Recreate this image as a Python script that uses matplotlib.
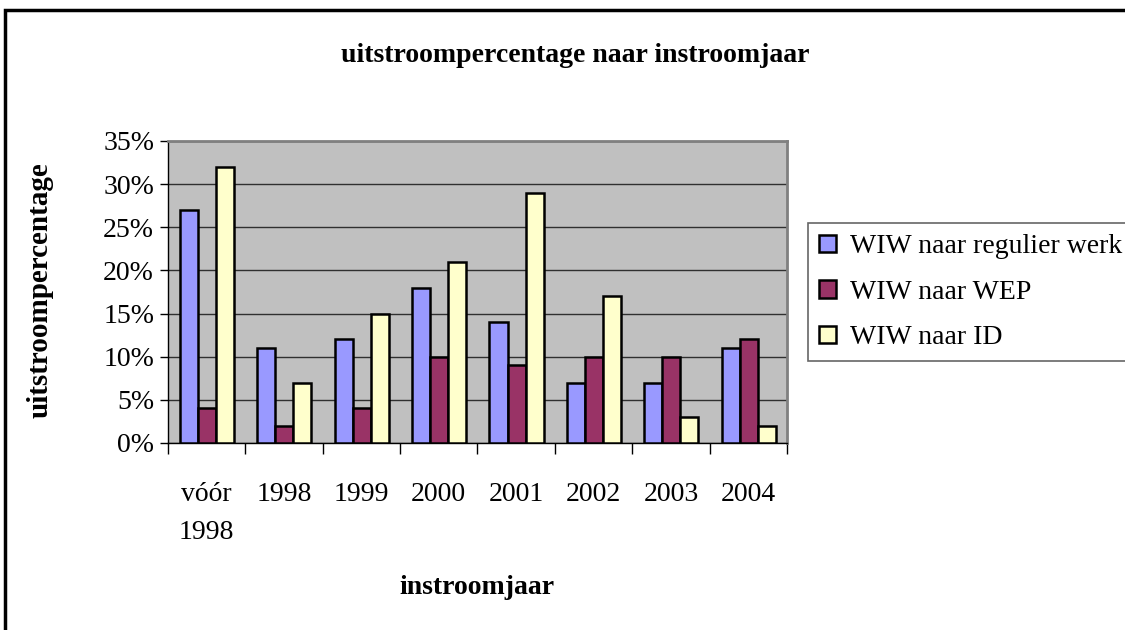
import matplotlib
matplotlib.use("Agg")
import matplotlib.pyplot as plt
import numpy as np
from matplotlib.patches import Rectangle

categories = ["vóór\n1998", "1998", "1999", "2000", "2001", "2002", "2003", "2004"]
regulier = [27, 11, 12, 18, 14, 7, 7, 11]
wep = [4, 2, 4, 10, 9, 10, 10, 12]
idv = [32, 7, 15, 21, 29, 17, 3, 2]
series_names = ["WIW naar regulier werk", "WIW naar WEP", "WIW naar ID"]
colors = ["#9999FF", "#993366", "#FFFFCC"]
yticks = [0, 5, 10, 15, 20, 25, 30, 35]

plt.rcParams['font.family'] = ['Liberation Serif', 'DejaVu Serif']

fig = plt.figure(figsize=(11.25, 6.3), dpi=100)
# outer chart frame
fig.patches.append(Rectangle((5/1125, -0.1), 1.2, (630-10)/630 + 0.1, transform=fig.transFigure,
                             fill=False, edgecolor="black", linewidth=2.5))

ax = fig.add_axes([168/1125, 1-443/630, (787-168)/1125, (443-141)/630])
ax.set_facecolor("#C0C0C0")

x = np.arange(len(categories))
w = 0.233
for i, (vals, c, name) in enumerate(zip([regulier, wep, idv], colors, series_names)):
    ax.bar(x - 0.5 + 0.155 + w * (i + 0.5), vals, width=w, color=c, edgecolor="black",
           linewidth=1.8, label=name, zorder=3)

ax.set_xlim(-0.5, len(categories) - 0.5)
ax.set_ylim(0, 35)
ax.set_yticks(yticks)
ax.set_yticklabels([f"{v}%" for v in yticks], fontsize=20)
ax.yaxis.grid(True, color="#303030", linewidth=1.0, zorder=1)
ax.set_xticks(np.arange(len(categories) + 1) - 0.5, minor=False)
ax.set_xticklabels([])
ax.set_xticks(x, minor=True)
ax.set_xticklabels(categories, minor=True, fontsize=20, linespacing=1.7, va="top")
ax.tick_params(axis="x", which="minor", length=0, pad=28)
ax.tick_params(axis="x", which="major", length=8, width=1.0, direction="out")
ax.tick_params(axis="y", length=6, width=1.0, direction="out", pad=4)
for s in ["top", "right"]:
    ax.spines[s].set_color("#808080")
    ax.spines[s].set_linewidth(2)
for s in ["left", "bottom"]:
    ax.spines[s].set_color("black")
    ax.spines[s].set_linewidth(1.0)

fig.text(575/1125, 1-55/630, "uitstroompercentage naar instroomjaar", ha="center", va="center",
         fontsize=20, fontweight="bold")
fig.text(40/1125, 1-290/630, "uitstroompercentage", ha="center", va="center", rotation=90,
         fontsize=21, fontweight="bold")
fig.text(477/1125, 1-588/630, "instroomjaar", ha="center", va="center",
         fontsize=20, fontweight="bold")

leg = fig.legend(loc="upper left", bbox_to_anchor=(808/1125, 1-223/630), fontsize=20,
                 frameon=True, fancybox=False, edgecolor="#404040", handlelength=0.6,
                 handleheight=0.6, handletextpad=0.5, borderpad=0.4, labelspacing=0.74,
                 borderaxespad=0)
leg.get_frame().set_linewidth(1.2)
for h in leg.legend_handles:
    h.set_linewidth(1.8)

fig.savefig("out.png", dpi=100)
